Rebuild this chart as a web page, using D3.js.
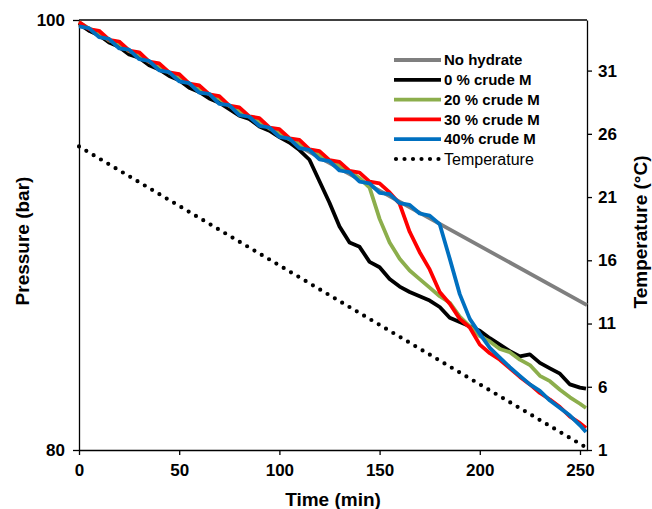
<!DOCTYPE html>
<html>
<head>
    <meta charset="utf-8">
    <title>Pressure and temperature</title>
    <script src="https://cdnjs.cloudflare.com/ajax/libs/d3/7.8.5/d3.min.js"></script>
</head>
<body style="margin:0">
<style>
    svg { font-family: "Liberation Sans", Arial, sans-serif; }
    .axis text { font-size: 17px; font-weight: bold; fill: #000; }
    .axis path, .axis line { stroke: #000; stroke-width: 1.3; }
</style>
<script>
    // time grid (min) shared by the hydrate runs
    const times = [0, 5, 10, 15, 20, 25, 30, 35, 40, 45,
        50, 55, 60, 65, 70, 75, 80, 85, 90, 95,
        100, 105, 110, 115, 120, 125, 130, 135, 140, 145,
        150, 155, 160, 165, 170, 175, 180, 185, 190, 195,
        200, 205, 210, 215, 220, 225, 230, 235, 240, 245,
        250, 253];

    const crude0 = [99.85, 99.50, 99.30, 98.95, 98.75, 98.40, 98.25, 97.90, 97.70, 97.40,
        97.20, 96.85, 96.65, 96.35, 96.15, 95.85, 95.55, 95.40, 95.05, 94.85,
        94.55, 94.30, 93.95, 93.50, 92.50, 91.50, 90.40, 89.65, 89.45, 88.75,
        88.50, 87.95, 87.60, 87.35, 87.15, 86.95, 86.65, 86.15, 85.95, 85.75,
        85.55, 85.20, 84.90, 84.60, 84.35, 84.45, 84.05, 83.80, 83.55, 83.05,
        82.90, 82.85];
    const crude20 = [99.90, 99.60, 99.40, 99.05, 98.90, 98.55, 98.40, 98.05, 97.85, 97.55,
        97.35, 97.05, 96.80, 96.55, 96.35, 96.00, 95.80, 95.50, 95.30, 94.95,
        94.75, 94.45, 94.25, 93.95, 93.75, 93.45, 93.25, 92.95, 92.65, 92.20,
        90.75, 89.65, 88.90, 88.35, 87.95, 87.55, 87.15, 86.85, 86.20, 85.75,
        85.30, 85.05, 84.70, 84.55, 84.20, 83.95, 83.45, 83.20, 82.80, 82.45,
        82.15, 81.95];
    const crude30 = [99.90, 99.58, 99.50, 99.08, 99.00, 98.58, 98.50, 98.06, 97.98, 97.56,
        97.48, 97.04, 96.96, 96.54, 96.46, 96.02, 95.94, 95.52, 95.44, 95.00,
        94.92, 94.50, 94.42, 93.98, 93.90, 93.48, 93.40, 92.98, 92.90, 92.48,
        92.40, 91.98, 91.45, 90.15, 89.20, 88.40, 87.35, 86.80, 86.10, 85.70,
        84.90, 84.50, 84.20, 83.80, 83.40, 83.05, 82.65, 82.35, 82.00, 81.55,
        81.25, 81.02];
    const crude40 = [99.70, 99.62, 99.20, 99.12, 98.68, 98.62, 98.18, 98.10, 97.66, 97.58,
        97.14, 97.06, 96.62, 96.56, 96.10, 96.04, 95.58, 95.50, 95.08, 95.00,
        94.56, 94.48, 94.04, 93.96, 93.52, 93.44, 93.00, 92.92, 92.48, 92.40,
        91.96, 91.90, 91.48, 91.40, 91.00, 90.90, 90.50, 88.90, 87.25, 86.10,
        85.40, 84.75, 84.30, 83.85, 83.45, 83.05, 82.75, 82.30, 81.95, 81.60,
        81.15, 80.84];

    // no-hydrate reference and the cooling ramp
    const noHydrateTime = [0, 253.5];
    const noHydrate = [99.77, 86.74];
    const tempTime = [0, 252];
    const temperature = [25.0, 1.3];

    const xTicks = [0, 50, 100, 150, 200, 250];
    const pTicks = [80, 100];
    const tTicks = [1, 6, 11, 16, 21, 26, 31];

    const series = [
        {name: "No hydrate", t: noHydrateTime, v: noHydrate, color: "#7f7f7f"},
        {name: "0 % crude M", t: times, v: crude0, color: "#000000"},
        {name: "20 % crude M", t: times, v: crude20, color: "#8cae4c"},
        {name: "30 % crude M", t: times, v: crude30, color: "#ff0000"},
        {name: "40% crude M", t: times, v: crude40, color: "#0070c0"}
    ];

    const W = 652, H = 509;
    const plotL = 79, plotR = 587, plotT = 20, plotB = 450;

    const svg = d3.select("body").append("svg").attr("width", W).attr("height", H);

    const x = d3.scaleLinear().domain([0, 253.5]).range([plotL, plotR]);
    const yP = d3.scaleLinear().domain([80, 100]).range([plotB, plotT]);
    const yT = d3.scaleLinear().domain([1, 35]).range([plotB, plotT]);

    // frame top line
    svg.append("line").attr("x1", plotL).attr("x2", plotR).attr("y1", plotT).attr("y2", plotT)
        .attr("stroke", "#000").attr("stroke-width", 1.3);

    svg.append("g").attr("class", "axis").attr("transform", `translate(0,${plotB})`)
        .call(d3.axisBottom(x).tickValues(xTicks).tickSize(5).tickSizeOuter(0).tickPadding(9));
    svg.append("g").attr("class", "axis").attr("transform", `translate(${plotL},0)`)
        .call(d3.axisLeft(yP).tickValues(pTicks).tickSize(6).tickSizeOuter(0).tickPadding(8));
    svg.append("g").attr("class", "axis").attr("transform", `translate(${plotR},0)`)
        .call(d3.axisRight(yT).tickValues(tTicks).tickSize(5).tickSizeOuter(0).tickPadding(6));

    const lineP = d3.line().x(d => x(d[0])).y(d => yP(d[1]));
    const lineT = d3.line().x(d => x(d[0])).y(d => yT(d[1]));

    const plot = svg.append("g");
    series.forEach(s => {
        plot.append("path")
            .datum(d3.zip(s.t, s.v))
            .attr("fill", "none")
            .attr("stroke", s.color)
            .attr("stroke-width", 3.8)
            .attr("stroke-linejoin", "round")
            .attr("d", lineP);
    });

    plot.append("path")
        .datum(d3.zip(tempTime, temperature))
        .attr("fill", "none")
        .attr("stroke", "#000")
        .attr("stroke-width", 4.2)
        .attr("stroke-linecap", "round")
        .attr("stroke-dasharray", "0 8.5")
        .attr("d", lineT);

    // legend
    const legendRows = series.map(s => ({name: s.name, color: s.color, dotted: false}))
        .concat([{name: "Temperature", color: "#000", dotted: true}]);
    const lg = svg.append("g").attr("transform", "translate(394,60)");
    legendRows.forEach((r, i) => {
        const yy = i * 19.8;
        lg.append("line").attr("x1", r.dotted ? 2 : 0).attr("x2", 47).attr("y1", yy).attr("y2", yy)
            .attr("stroke", r.color)
            .attr("stroke-width", r.dotted ? 4.2 : 3.8)
            .attr("stroke-linecap", r.dotted ? "round" : "butt")
            .attr("stroke-dasharray", r.dotted ? "0 8.5" : null);
        lg.append("text").attr("x", 50).attr("y", yy).attr("dy", "0.35em")
            .style("font-size", r.dotted ? "16px" : "15px")
            .style("font-weight", r.dotted ? "normal" : "bold")
            .text(r.name);
    });

    // axis titles
    svg.append("text").attr("x", (plotL + plotR) / 2).attr("y", 506)
        .attr("text-anchor", "middle").style("font-size", "19px").style("font-weight", "bold")
        .text("Time (min)");
    svg.append("text").attr("transform", `translate(29,241) rotate(-90)`)
        .attr("text-anchor", "middle").style("font-size", "19px").style("font-weight", "bold")
        .text("Pressure (bar)");
    svg.append("text").attr("transform", `translate(647,232) rotate(-90)`)
        .attr("text-anchor", "middle").style("font-size", "19px").style("font-weight", "bold")
        .text("Temperature (°C)");
</script>
</body>
</html>
